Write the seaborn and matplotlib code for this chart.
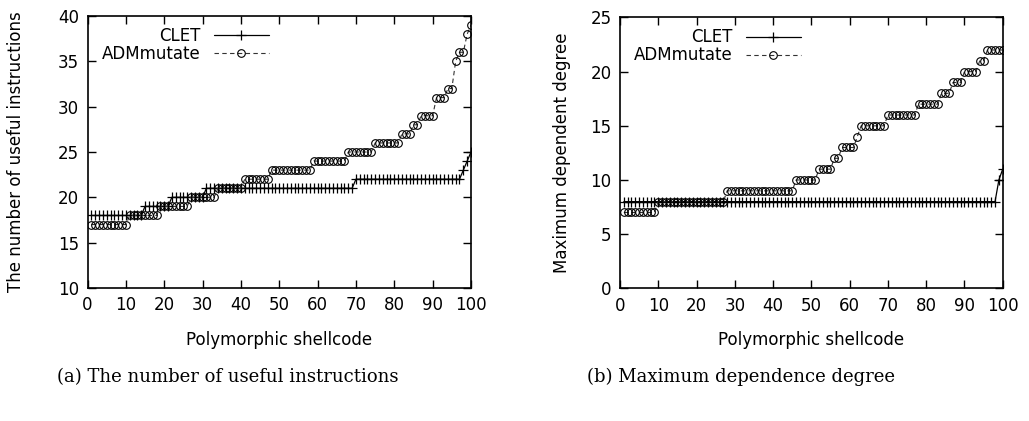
import matplotlib
matplotlib.use("Agg")
import matplotlib.pyplot as plt
import seaborn as sns
import pandas as pd

# ---------------- data ----------------
shellcode = list(range(1, 101))

clet_useful = [18, 18, 18, 18, 18, 18, 18, 18, 18, 18,
               18, 18, 18, 18, 19, 19, 19, 19, 19, 19,
               19, 20, 20, 20, 20, 20, 20, 20, 20, 20,
               21, 21, 21, 21, 21, 21, 21, 21, 21, 21,
               21, 21, 21, 21, 21, 21, 21, 21, 21, 21,
               21, 21, 21, 21, 21, 21, 21, 21, 21, 21,
               21, 21, 21, 21, 21, 21, 21, 21, 21, 22,
               22, 22, 22, 22, 22, 22, 22, 22, 22, 22,
               22, 22, 22, 22, 22, 22, 22, 22, 22, 22,
               22, 22, 22, 22, 22, 22, 22, 23, 24, 25]

adm_useful = [17, 17, 17, 17, 17, 17, 17, 17, 17, 17,
              18, 18, 18, 18, 18, 18, 18, 18, 19, 19,
              19, 19, 19, 19, 19, 19, 20, 20, 20, 20,
              20, 20, 20, 21, 21, 21, 21, 21, 21, 21,
              22, 22, 22, 22, 22, 22, 22, 23, 23, 23,
              23, 23, 23, 23, 23, 23, 23, 23, 24, 24,
              24, 24, 24, 24, 24, 24, 24, 25, 25, 25,
              25, 25, 25, 25, 26, 26, 26, 26, 26, 26,
              26, 27, 27, 27, 28, 28, 29, 29, 29, 29,
              31, 31, 31, 32, 32, 35, 36, 36, 38, 39]

clet_degree = [8, 8, 8, 8, 8, 8, 8, 8, 8, 8,
               8, 8, 8, 8, 8, 8, 8, 8, 8, 8,
               8, 8, 8, 8, 8, 8, 8, 8, 8, 8,
               8, 8, 8, 8, 8, 8, 8, 8, 8, 8,
               8, 8, 8, 8, 8, 8, 8, 8, 8, 8,
               8, 8, 8, 8, 8, 8, 8, 8, 8, 8,
               8, 8, 8, 8, 8, 8, 8, 8, 8, 8,
               8, 8, 8, 8, 8, 8, 8, 8, 8, 8,
               8, 8, 8, 8, 8, 8, 8, 8, 8, 8,
               8, 8, 8, 8, 8, 8, 8, 8, 10, 11]

adm_degree = [7, 7, 7, 7, 7, 7, 7, 7, 7, 8,
              8, 8, 8, 8, 8, 8, 8, 8, 8, 8,
              8, 8, 8, 8, 8, 8, 8, 9, 9, 9,
              9, 9, 9, 9, 9, 9, 9, 9, 9, 9,
              9, 9, 9, 9, 9, 10, 10, 10, 10, 10,
              10, 11, 11, 11, 11, 12, 12, 13, 13, 13,
              13, 14, 15, 15, 15, 15, 15, 15, 15, 16,
              16, 16, 16, 16, 16, 16, 16, 17, 17, 17,
              17, 17, 17, 18, 18, 18, 19, 19, 19, 20,
              20, 20, 20, 21, 21, 22, 22, 22, 22, 22]

series_names = ["CLET", "ADMmutate"]
x_label = "Polymorphic shellcode"
y_labels = ["The number of useful instructions", "Maximum dependent degree"]
captions = ["(a) The number of useful instructions", "(b) Maximum dependence degree"]
x_ticks = [0, 10, 20, 30, 40, 50, 60, 70, 80, 90, 100]
y_ticks_a = [10, 15, 20, 25, 30, 35, 40]
y_ticks_b = [0, 5, 10, 15, 20, 25]

# ---------------- style ----------------
sns.set_style("ticks")
plt.rcParams.update({
    "font.family": ["DejaVu Sans"],
    "text.color": "black",
    "axes.labelcolor": "black",
    "xtick.direction": "in",
    "ytick.direction": "in",
    "xtick.top": True,
    "ytick.right": True,
    "xtick.major.size": 5.5,
    "ytick.major.size": 5.5,
    "xtick.major.width": 1.0,
    "ytick.major.width": 1.0,
    "axes.linewidth": 1.2,
    "axes.edgecolor": "black",
    "xtick.color": "black",
    "ytick.color": "black",
    "xtick.labelcolor": "black",
    "ytick.labelcolor": "black",
})

FS = 12
fig = plt.figure(figsize=(10.29, 4.21), dpi=100)
W, H = 1029, 421
ax1 = fig.add_axes([87.5 / W, 1 - 288 / H, (471 - 87.5) / W, (288 - 16) / H])
ax2 = fig.add_axes([620 / W, 1 - 288.3 / H, (1002.7 - 620) / W, (288.3 - 17.5) / H])


def draw(ax, clet, adm, yticks, ylabel, ylabelpad):
    df = pd.DataFrame({"x": shellcode, "CLET": clet, "ADMmutate": adm})
    sns.lineplot(data=df, x="x", y="CLET", ax=ax, color="black", lw=0.9,
                 marker="+", markersize=7, mec="black", mew=0.9,
                 label=series_names[0])
    sns.lineplot(data=df, x="x", y="ADMmutate", ax=ax, color="#333333", lw=0.8,
                 linestyle=(0, (4, 3)), marker="o", markersize=5.5,
                 mfc="none", mec="black", mew=0.8, label=series_names[1])
    ax.set_xlim(0, 100)
    ax.set_ylim(yticks[0], yticks[-1])
    ax.set_xticks(x_ticks)
    ax.set_yticks(yticks)
    ax.tick_params(labelsize=FS, pad=6)
    ax.set_xlabel(x_label, fontsize=FS, labelpad=12)
    ax.set_ylabel(ylabel, fontsize=FS, labelpad=ylabelpad)
    ax.legend(loc="upper right", bbox_to_anchor=(0.481, 0.972), frameon=False,
              markerfirst=False, fontsize=FS, handlelength=3.3,
              handletextpad=0.8, labelspacing=0.0, borderaxespad=0,
              borderpad=0.2)


draw(ax1, clet_useful, adm_useful, y_ticks_a, y_labels[0], 24)
draw(ax2, clet_degree, adm_degree, y_ticks_b, y_labels[1], 14)

fig.text(228 / W, 1 - 377 / H, captions[0], ha="center", va="center",
         fontsize=13, family="DejaVu Serif")
fig.text(741 / W, 1 - 377 / H, captions[1], ha="center", va="center",
         fontsize=13, family="DejaVu Serif")

fig.savefig("out.png", dpi=100)
